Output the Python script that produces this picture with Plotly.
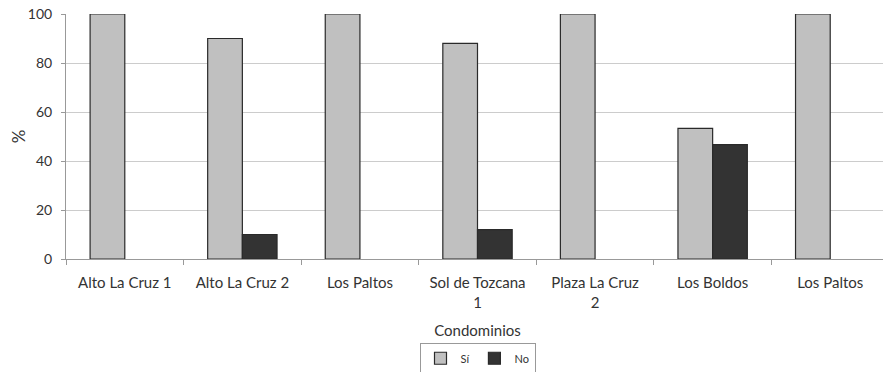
import plotly.graph_objects as go

categories = ["Alto La Cruz 1", "Alto La Cruz 2", "Los Paltos", "Sol de Tozcana<br>1",
              "Plaza La Cruz<br>2", "Los Boldos", "Los Paltos"]
si_values = [100, 90, 100, 88, 100, 53.3, 100]
no_values = [None, 10, None, 12, None, 46.7, None]
y_ticks = [0, 20, 40, 60, 80, 100]

x_idx = list(range(len(categories)))
font_family = "Lato, 'Open Sans', sans-serif"

fig = go.Figure()
fig.add_trace(go.Bar(x=x_idx, y=si_values, name="Sí",
                     marker=dict(color="#c0c0c0", line=dict(color="#2a2a2a", width=1.2))))
fig.add_trace(go.Bar(x=x_idx, y=no_values, name="No",
                     marker=dict(color="#333333", line=dict(color="#2a2a2a", width=1.2))))

fig.update_layout(
    width=883, height=364,
    margin=dict(l=58, r=2, t=6, b=113, autoexpand=False),
    paper_bgcolor="white", plot_bgcolor="white",
    barmode="group", bargap=0.41, bargroupgap=0,
    font=dict(family=font_family, size=14, color="#333333"),
    showlegend=True,
    legend=dict(orientation="h", x=0.5, xanchor="center", y=-0.405, yanchor="middle",
                bordercolor="#999999", borderwidth=1, font=dict(size=11),
                itemwidth=30, tracegroupgap=0),
    xaxis=dict(
        tickmode="array", tickvals=x_idx, ticktext=categories,
        range=[-0.5, len(categories) - 0.5],
        showline=True, linecolor="#999999", linewidth=1,
        ticks="", showgrid=False, zeroline=False,
        minor=dict(tick0=0.5, dtick=1, ticks="outside", ticklen=5, tickcolor="#999999", showgrid=False),
        ticklabelstandoff=10,
        title=dict(text="Condominios", standoff=15, font=dict(size=15)),
        tickfont=dict(size=15),
    ),
    yaxis=dict(
        range=[0, 100], tickvals=y_ticks,
        showline=True, linecolor="#999999", linewidth=1,
        ticks="outside", ticklen=4, tickcolor="#999999",
        showgrid=True, gridcolor="#cccccc", gridwidth=1, zeroline=False,
        ticklabelstandoff=6, ticklabeloverflow="allow",
        title=dict(text="%", standoff=16),
        tickfont=dict(size=14),
    ),
)

fig.add_annotation(text="Fuente: Elaboración propia", xref="paper", yref="paper",
                   x=-0.07, y=-0.445, xanchor="left", yanchor="top", showarrow=False,
                   font=dict(size=13, color="#555555"))

fig.write_html("out.html")
